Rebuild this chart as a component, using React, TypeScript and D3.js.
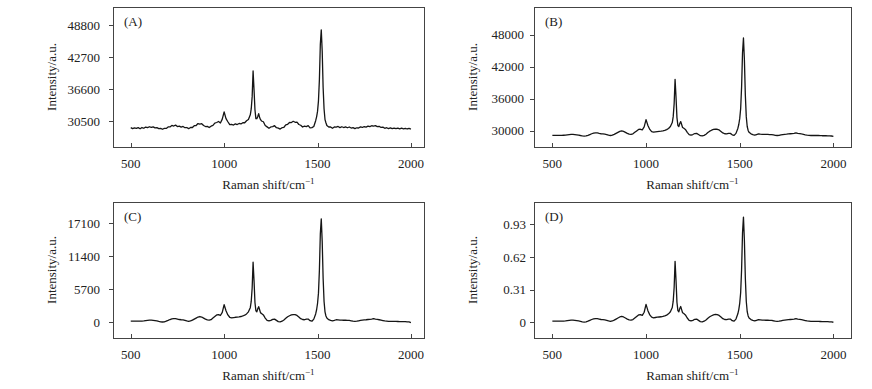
import * as d3 from "d3";

// Raman shift grid (cm^-1), denser round the two main bands
const wavenumber = [
  500, 510, 520, 530, 540, 550, 560, 570, 580, 590,
  600, 610, 620, 630, 640, 650, 660, 670, 680, 690,
  700, 710, 720, 730, 740, 750, 760, 770, 780, 790,
  800, 810, 820, 830, 840, 850, 860, 870, 880, 890,
  900, 910, 920, 930, 940, 950, 960, 970, 980, 990,
  1000, 1010, 1020, 1030, 1040, 1050, 1060, 1070, 1080, 1090,
  1100, 1110, 1120, 1130, 1140,
  1145, 1150, 1155, 1160, 1165, 1170, 1175, 1180, 1185, 1190, 1195, 1200,
  1210, 1220, 1230, 1240, 1250, 1260, 1270, 1280, 1290, 1300,
  1310, 1320, 1330, 1340, 1350, 1360, 1370, 1380, 1390, 1400,
  1410, 1420, 1430, 1440, 1450, 1460, 1470, 1480, 1490,
  1495, 1500, 1505, 1510, 1515, 1520, 1525, 1530, 1535, 1540, 1545, 1550,
  1560, 1570, 1580, 1590, 1600, 1610, 1620, 1630, 1640, 1650,
  1660, 1670, 1680, 1690, 1700, 1710, 1720, 1730, 1740, 1750,
  1760, 1770, 1780, 1790, 1800, 1810, 1820, 1830, 1840, 1850,
  1860, 1870, 1880, 1890, 1900, 1910, 1920, 1930, 1940, 1950,
  1960, 1970, 1980, 1990, 2000,
];

// (A) raw spectrum
const rawA = [
  29290, 29100, 29240, 29130, 29280, 29070, 29300, 29160, 29390, 29270,
  29450, 29310, 29420, 29220, 29280, 29090, 29140, 28970, 29120, 29130,
  29420, 29410, 29700, 29590, 29760, 29480, 29560, 29380, 29500, 29270,
  29300, 29080, 29310, 29300, 29650, 29690, 30060, 29960, 30030, 29680,
  29490, 29510, 29300, 29560, 29700, 30150, 30260, 30450, 30170, 30900,
  32300, 31000, 30400, 29840, 29880, 29780, 29990, 29870, 30080, 29980,
  30220, 30210, 30600, 30850, 31720,
  32850, 35200, 40100, 36550, 32700, 31000, 30980, 31400, 31950, 31200, 30800, 30550,
  30400, 29680, 29420, 29150, 29410, 29460, 29650, 29270, 29190, 29000,
  29260, 29350, 29800, 29920, 30260, 30250, 30490, 30300, 30330, 29880,
  29730, 29400, 29550, 29480, 29650, 29220, 29280, 29500, 30600,
  31350, 32380, 34400, 38450, 45200, 47950, 43900, 36900, 32850, 30820, 30220, 29680,
  29400, 29420, 29150, 29410, 29380, 29500, 29290, 29450, 29300, 29430,
  29260, 29400, 29200, 29280, 29080, 29250, 29210, 29420, 29310, 29490,
  29390, 29560, 29460, 29640, 29580, 29650, 29460, 29530, 29310, 29370,
  29160, 29260, 29090, 29220, 29080, 29200, 29110, 29190, 29050, 29170,
  29060, 29150, 29020, 29120, 28980,
];

// (B) smoothed
const smoothB = [
  29180, 29180, 29180, 29180, 29180, 29180, 29200, 29220, 29280, 29330,
  29370, 29370, 29330, 29280, 29220, 29150, 29070, 29040, 29070, 29180,
  29330, 29480, 29590, 29640, 29630, 29550, 29480, 29440, 29400, 29330,
  29220, 29150, 29220, 29370, 29550, 29740, 29920, 30010, 29920, 29740,
  29550, 29400, 29370, 29460, 29740, 30010, 30290, 30320, 30200, 30750,
  32130, 31020, 30290, 29880, 29770, 29830, 29880, 29920, 29960, 30010,
  30100, 30250, 30470, 30840, 31580,
  32680, 35070, 39670, 36360, 32500, 31020, 30840, 31390, 31760, 31210, 30660, 30560,
  30290, 29740, 29330, 29220, 29330, 29520, 29550, 29330, 29110, 29070,
  29180, 29400, 29700, 29960, 30140, 30290, 30360, 30320, 30200, 29920,
  29630, 29480, 29440, 29550, 29550, 29280, 29180, 29550, 30470,
  31210, 32310, 34150, 38200, 44640, 47400, 43350, 36730, 32680, 30840, 30100, 29740,
  29460, 29330, 29220, 29330, 29440, 29400, 29370, 29370, 29350, 29350,
  29330, 29310, 29260, 29180, 29150, 29180, 29260, 29330, 29370, 29400,
  29440, 29480, 29520, 29550, 29630, 29550, 29520, 29440, 29370, 29290,
  29220, 29180, 29150, 29150, 29150, 29150, 29150, 29130, 29110, 29110,
  29110, 29090, 29070, 29060, 29000,
];

// (C) baseline corrected
const correctedC = [
  180, 180, 180, 180, 180, 180, 200, 220, 270, 320,
  360, 360, 320, 270, 220, 140, 70, 40, 70, 180,
  320, 470, 580, 630, 610, 540, 470, 430, 400, 320,
  220, 140, 220, 360, 540, 720, 900, 990, 900, 720,
  540, 400, 360, 450, 720, 990, 1260, 1300, 1170, 1710,
  3060, 1980, 1260, 860, 760, 810, 860, 900, 940, 990,
  1080, 1220, 1440, 1800, 2520,
  3600, 5940, 10400, 7200, 3420, 1980, 1800, 2340, 2700, 2160, 1620, 1530,
  1260, 720, 320, 220, 320, 500, 540, 320, 110, 70,
  180, 400, 680, 940, 1120, 1260, 1330, 1300, 1170, 900,
  610, 470, 430, 540, 540, 270, 180, 540, 1440,
  2160, 3240, 5040, 9000, 15300, 17900, 14000, 7560, 3600, 1800, 1080, 720,
  450, 320, 220, 320, 430, 400, 360, 360, 340, 340,
  320, 310, 250, 180, 140, 180, 250, 320, 360, 400,
  430, 470, 500, 540, 610, 540, 500, 430, 360, 290,
  220, 180, 140, 140, 140, 140, 140, 130, 110, 110,
  110, 90, 70, 50, -60,
];

// (D) normalised
const normalizedD = [
  0.010, 0.010, 0.010, 0.010, 0.010, 0.010, 0.011, 0.012, 0.015, 0.018,
  0.020, 0.020, 0.018, 0.015, 0.012, 0.008, 0.004, 0.002, 0.004, 0.010,
  0.018, 0.026, 0.032, 0.035, 0.034, 0.030, 0.026, 0.024, 0.022, 0.018,
  0.012, 0.008, 0.012, 0.020, 0.030, 0.040, 0.050, 0.055, 0.050, 0.040,
  0.030, 0.022, 0.020, 0.025, 0.040, 0.055, 0.070, 0.072, 0.065, 0.095,
  0.170, 0.110, 0.070, 0.048, 0.042, 0.045, 0.048, 0.050, 0.052, 0.055,
  0.060, 0.068, 0.080, 0.100, 0.140,
  0.200, 0.330, 0.580, 0.400, 0.190, 0.110, 0.100, 0.130, 0.150, 0.120, 0.090, 0.085,
  0.070, 0.040, 0.018, 0.012, 0.018, 0.028, 0.030, 0.018, 0.006, 0.004,
  0.010, 0.022, 0.038, 0.052, 0.062, 0.070, 0.074, 0.072, 0.065, 0.050,
  0.034, 0.026, 0.024, 0.030, 0.030, 0.015, 0.010, 0.030, 0.080,
  0.120, 0.180, 0.280, 0.500, 0.850, 1.000, 0.780, 0.420, 0.200, 0.100, 0.060, 0.040,
  0.025, 0.018, 0.012, 0.018, 0.024, 0.022, 0.020, 0.020, 0.019, 0.019,
  0.018, 0.017, 0.014, 0.010, 0.008, 0.010, 0.014, 0.018, 0.020, 0.022,
  0.024, 0.026, 0.028, 0.030, 0.034, 0.030, 0.028, 0.024, 0.020, 0.016,
  0.012, 0.010, 0.008, 0.008, 0.008, 0.008, 0.008, 0.007, 0.006, 0.006,
  0.006, 0.005, 0.004, 0.003, 0.000,
];

const xTicks = [500, 1000, 1500, 2000];
const yTicksA = [30500, 36600, 42700, 48800];
const yTicksB = [30000, 36000, 42000, 48000];
const yTicksC = [0, 5700, 11400, 17100];
const yTicksD = [0, 0.31, 0.62, 0.93];

const FONT = "'Liberation Serif', 'Times New Roman', serif";
const TEXT = "#222";

interface PanelProps {
  label: string;
  values: number[];
  box: { x0: number; x1: number; y0: number; y1: number };
  xDomain: [number, number];
  yDomain: [number, number];
  yTicks: number[];
  labelGap: number;
  yFormat?: (v: number) => string;
}

function Panel({ label, values, box, xDomain, yDomain, yTicks, labelGap, yFormat }: PanelProps) {
  const x = d3.scaleLinear().domain(xDomain).range([box.x0, box.x1]);
  const y = d3.scaleLinear().domain(yDomain).range([box.y1, box.y0]);
  const line = d3
    .line<number>()
    .x((_, i) => x(wavenumber[i]))
    .y((d) => y(d));
  const fmt = yFormat || ((v: number) => String(v));
  const midY = (box.y0 + box.y1) / 2;
  const midX = (box.x0 + box.x1) / 2;

  return (
    <g fontFamily={FONT} fill={TEXT}>
      <path d={line(values) || ""} fill="none" stroke="#151515" strokeWidth={1.3} strokeLinejoin="round" />
      <rect
        x={box.x0 + 0.5}
        y={box.y0 + 0.5}
        width={box.x1 - box.x0}
        height={box.y1 - box.y0}
        fill="none"
        stroke="#444"
        strokeWidth={1}
      />
      {/* x ticks point inward */}
      {xTicks.map((t) => (
        <g key={"x" + t}>
          <line x1={Math.round(x(t)) + 0.5} x2={Math.round(x(t)) + 0.5} y1={box.y1} y2={box.y1 - 4} stroke="#444" />
          <text x={x(t)} y={box.y1 + 20.5} textAnchor="middle" fontSize={13}>
            {t}
          </text>
        </g>
      ))}
      {/* y ticks point outward */}
      {yTicks.map((t) => (
        <g key={"y" + t}>
          <line x1={box.x0 - 4} x2={box.x0} y1={Math.round(y(t)) + 0.5} y2={Math.round(y(t)) + 0.5} stroke="#444" />
          <text x={box.x0 - labelGap} y={y(t) + 4.5} textAnchor="end" fontSize={13}>
            {fmt(t)}
          </text>
        </g>
      ))}
      <text x={box.x0 + 11} y={box.y0 + 19} fontSize={13}>
        {label}
      </text>
      <text transform={`translate(${box.x0 - 57},${midY}) rotate(-90)`} textAnchor="middle" fontSize={13}>
        Intensity/a.u.
      </text>
      <text x={midX} y={box.y1 + 42} textAnchor="middle" fontSize={13}>
        Raman shift/cm
        <tspan fontSize={9} dy={-5}>
          −1
        </tspan>
      </text>
    </g>
  );
}

export default function App() {
  return (
    <svg
      width={872}
      height={389}
      viewBox="0 0 872 389"
      style={{ position: "absolute", left: 0, top: 0, background: "#fff" }}
    >
      <rect width={872} height={389} fill="#fff" />
      <Panel
        label="(A)"
        values={rawA}
        box={{ x0: 113, x1: 424, y0: 7, y1: 147 }}
        xDomain={[405, 2070]}
        yDomain={[25580, 52320]}
        yTicks={yTicksA}
        labelGap={13}
      />
      <Panel
        label="(B)"
        values={smoothB}
        box={{ x0: 534, x1: 851, y0: 7, y1: 147 }}
        xDomain={[402, 2094]}
        yDomain={[27000, 53200]}
        yTicks={yTicksB}
        labelGap={10}
      />
      <Panel
        label="(C)"
        values={correctedC}
        box={{ x0: 113, x1: 424, y0: 202, y1: 338 }}
        xDomain={[405, 2070]}
        yDomain={[-2730, 20820]}
        yTicks={yTicksC}
        labelGap={13}
      />
      <Panel
        label="(D)"
        values={normalizedD}
        box={{ x0: 534, x1: 851, y0: 202, y1: 338 }}
        xDomain={[402, 2094]}
        yDomain={[-0.15, 1.144]}
        yTicks={yTicksD}
        labelGap={8}
        yFormat={(v) => (v === 0 ? "0" : v.toFixed(2))}
      />
    </svg>
  );
}
